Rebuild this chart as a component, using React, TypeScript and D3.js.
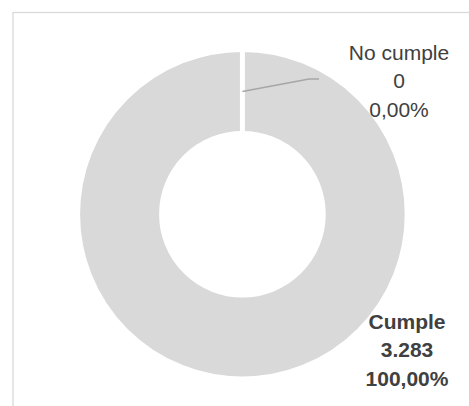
import React from "react";
import * as d3 from "d3";

const categories = ["Cumple", "No cumple"];
const values = [3283, 0];
const colors = ["#d9d9d9", "#d9d9d9"];

const W = 469;
const H = 406;

const locale = d3.formatLocale({
  decimal: ",",
  thousands: ".",
  grouping: [3],
  currency: ["", "€"],
});
const fmtInt = locale.format(",d");
const fmtPct = locale.format(".2%");

export default function App() {
  const cx = 242.4;
  const cy = 214.2;
  const gap = 5;
  const outerR = 162.3 + gap / 2;
  const innerR = 83.3 - gap / 2;

  const pie = d3.pie<number>().sort(null).value((d) => d)(values);
  const arc = d3.arc<d3.PieArcDatum<number>>().innerRadius(innerR).outerRadius(outerR);
  const total = d3.sum(values);

  // label layout (anchor centers)
  const labelPos = [
    { x: 407, y: 329, bold: true },
    { x: 399, y: 60, bold: false },
  ];
  const lineH = 28.3;

  const midArc = d3.arc<d3.PieArcDatum<number>>().innerRadius(83.3).outerRadius(162.3);

  return (
    <svg
      width={W}
      height={H}
      style={{ position: "absolute", left: 0, top: 0, background: "#fff" }}
      fontFamily="'Liberation Sans', Arial, sans-serif"
    >
      <rect x={13} y={12.5} width={W} height={H} fill="#fff" stroke="#d9d9d9" strokeWidth={1.3} />
      <g transform={`translate(${cx},${cy})`}>
        {pie.map((p, i) => (
          <path key={i} d={arc(p) || ""} fill={colors[i]} stroke="#fff" strokeWidth={gap} />
        ))}
        {pie.map((p, i) => {
          if (i === 0) return null;
          const [sx, sy] = midArc.centroid(p);
          const lp = labelPos[i];
          const ex = lp.x - cx - 80;
          const ey = lp.y - cy + 19;
          return (
            <polyline
              key={"l" + i}
              points={`${sx},${sy} ${ex - 10},${ey} ${ex},${ey}`}
              fill="none"
              stroke="#a6a6a6"
              strokeWidth={1.5}
            />
          );
        })}
      </g>
      {pie.map((p, i) => {
        const lp = labelPos[i];
        const lines = [categories[i], fmtInt(values[i]), fmtPct(values[i] / total)];
        return (
          <text
            key={"t" + i}
            textAnchor="middle"
            fill="#404040"
            fontSize={21}
            fontWeight={lp.bold ? "bold" : "normal"}
          >
            {lines.map((s, j) => (
              <tspan key={j} x={lp.x} y={lp.y + j * lineH}>
                {s}
              </tspan>
            ))}
          </text>
        );
      })}
    </svg>
  );
}
